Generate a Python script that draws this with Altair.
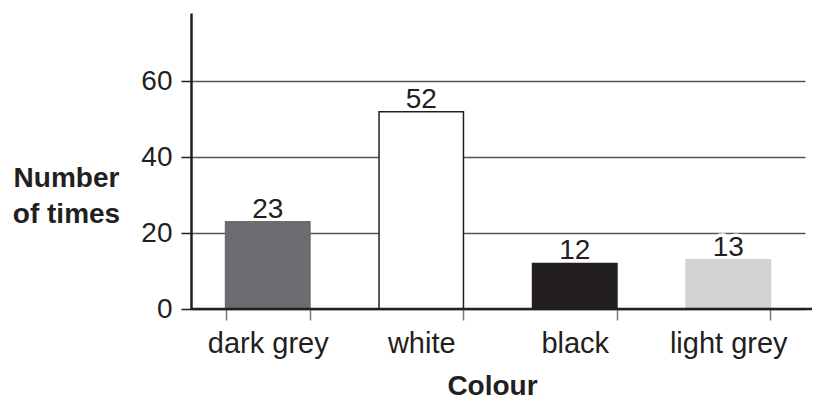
import altair as alt
import pandas as pd

categories = ["dark grey", "white", "black", "light grey"]
values = [23, 52, 12, 13]
fills = ["#6b6c70", "#ffffff", "#231f20", "#d1d2d4"]
strokes = ["#6b6c70", "#231f20", "#231f20", "#d1d2d4"]
y_ticks = [0, 20, 40, 60]

df = pd.DataFrame({"colour": categories, "times": values})

FONT = "Liberation Sans"
INK = "#231f20"
W, H = 614, 296

xenc = alt.X(
    "colour:N",
    sort=categories,
    scale=alt.Scale(paddingInner=0.45, paddingOuter=0.225),
    axis=alt.Axis(
        title="Colour",
        domain=False,
        grid=False,
        tickBand="extent",
        tickSize=11,
        tickColor="#7a7a7a",
        tickWidth=1.5,
        labelAngle=0,
        labelFont=FONT,
        labelFontSize=29,
        labelColor=INK,
        labelPadding=9,
        titleFont=FONT,
        titleFontSize=28,
        titleFontWeight="bold",
        titleColor=INK,
        titleX=301,
        titleY=85,
        titleBaseline="alphabetic",
    ),
)

yenc = alt.Y(
    "times:Q",
    scale=alt.Scale(domain=[0, 78], nice=False),
    axis=alt.Axis(
        values=y_ticks,
        title=["Number", "of times"],
        titleAngle=0,
        titleAlign="center",
        titleX=-125,
        titleY=173,
        titleBaseline="alphabetic",
        titleLineHeight=36,
        titleFont=FONT,
        titleFontSize=28,
        titleFontWeight="bold",
        titleColor=INK,
        domainColor=INK,
        domainWidth=2.5,
        tickSize=10,
        tickColor=INK,
        tickWidth=1.5,
        labelFont=FONT,
        labelFontSize=28,
        labelColor=INK,
        labelPadding=9,
        grid=True,
        gridColor="#555555",
        gridWidth=1.5,
    ),
)

base = alt.Chart(df)

halo = base.mark_text(
    baseline="alphabetic", dy=-4, font=FONT, fontSize=28, stroke="white", strokeWidth=7, fill="white"
).encode(x=xenc, y=yenc, text="times:Q")

bars = base.mark_bar(strokeWidth=1.5).encode(
    x=xenc,
    y=yenc,
    fill=alt.Fill("colour:N", scale=alt.Scale(domain=categories, range=fills), legend=None),
    stroke=alt.Stroke("colour:N", scale=alt.Scale(domain=categories, range=strokes), legend=None),
)

labels = base.mark_text(
    baseline="alphabetic", dy=-4, font=FONT, fontSize=28, color=INK
).encode(x=xenc, y=yenc, text="times:Q")

xline = alt.Chart(pd.DataFrame({"times": [0]})).mark_rule(color=INK, strokeWidth=2.5).encode(
    y=yenc,
    x=alt.value(0),
    x2=alt.value(W + 7),
)

chart = (
    alt.layer(halo, bars, labels, xline)
    .properties(
        width=W,
        height=H,
        autosize=alt.AutoSizeParams(type="none"),
        padding={"left": 183, "top": 5, "right": 7, "bottom": 91},
        view=alt.ViewBackground(strokeOpacity=0, strokeWidth=0),
    )
    .configure_view(strokeOpacity=0, strokeWidth=0)
    .configure(background="white")
)

chart.save("out.html", embed_options={"renderer": "svg", "actions": False})
